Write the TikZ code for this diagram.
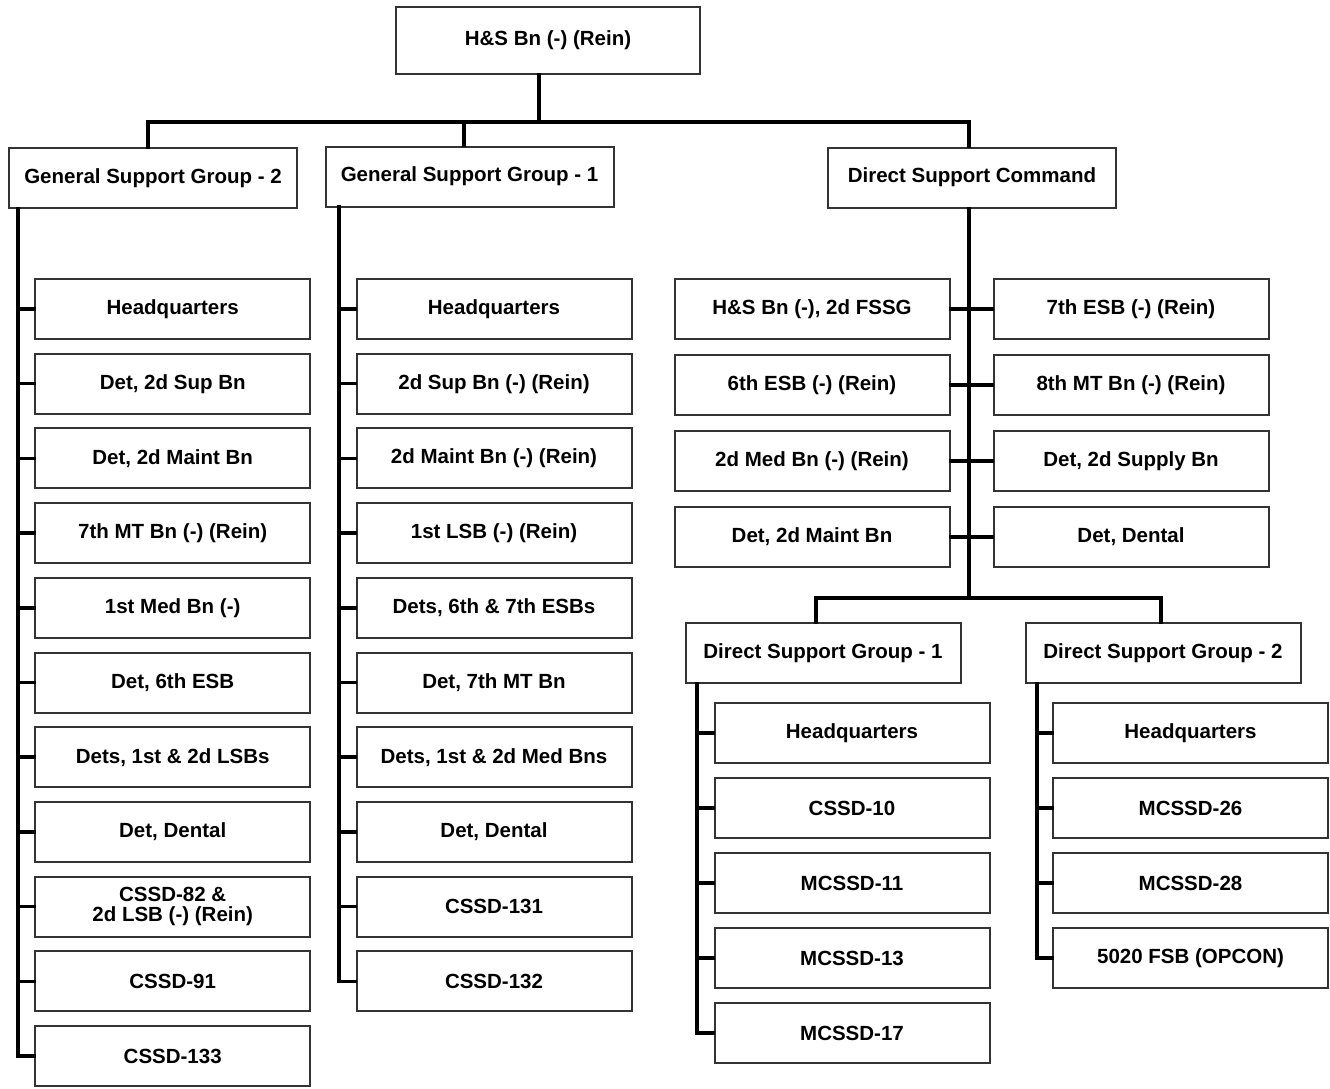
\documentclass[tikz,border=0pt]{standalone}
\usepackage{fontspec}
\setmainfont{Liberation Sans}
\usetikzlibrary{positioning}
\definecolor{edge}{rgb}{0.2,0.2,0.2}

\begin{document}
\begin{tikzpicture}[
  x = 1pt, y = -1pt,
  box/.style = {
    draw = edge,
    line width = 2pt,
    fill = white,
    align = center,
    inner sep = 0pt,
    minimum width = 275pt,
    minimum height = 60pt,
    font = \bfseries\fontsize{20.5}{20}\selectfont,
  },
  group/.style = {box, minimum width = 288pt},
  link/.style = {line width = 3.5pt, line cap = rect},
]
  \useasboundingbox[fill=white] (0,0) rectangle (1330,1088);

  \node[box, minimum width=304pt, minimum height=67pt] (hs) at (548,40.5) {H\&S Bn (-) (Rein)};

  \node[group] (gsgb) at (153,178) {General Support Group - 2};
  \node[group] (gsga) at (469.5,176.5) {General Support Group - 1};
  \node[group] (dsc) at (972,177.5) {Direct Support Command};

  % General Support Group - 2
  \begin{scope}[node distance=12.7pt]
  \node[box] (b1) at (172.7,309) {Headquarters};
  \node[box] (b2) [below=of b1] {Det, 2d Sup Bn};
  \node[box] (b3) [below=of b2] {Det, 2d Maint Bn};
  \node[box] (b4) [below=of b3] {7th MT Bn (-) (Rein)};
  \node[box] (b5) [below=of b4] {1st Med Bn (-)};
  \node[box] (b6) [below=of b5] {Det, 6th ESB};
  \node[box] (b7) [below=of b6] {Dets, 1st \& 2d LSBs};
  \node[box] (b8) [below=of b7] {Det, Dental};
  \node[box] (b9) [below=of b8] {CSSD-82 \&\\2d LSB (-) (Rein)};
  \node[box] (b10) [below=of b9] {CSSD-91};
  \node[box] (b11) [below=of b10] {CSSD-133};

  % General Support Group - 1
  \node[box] (a1) at (494,309) {Headquarters};
  \node[box] (a2) [below=of a1] {2d Sup Bn (-) (Rein)};
  \node[box] (a3) [below=of a2] {2d Maint Bn (-) (Rein)};
  \node[box] (a4) [below=of a3] {1st LSB (-) (Rein)};
  \node[box] (a5) [below=of a4] {Dets, 6th \& 7th ESBs};
  \node[box] (a6) [below=of a5] {Det, 7th MT Bn};
  \node[box] (a7) [below=of a6] {Dets, 1st \& 2d Med Bns};
  \node[box] (a8) [below=of a7] {Det, Dental};
  \node[box] (a9) [below=of a8] {CSSD-131};
  \node[box] (a10) [below=of a9] {CSSD-132};
  \end{scope}

  % Direct Support Command
  \begin{scope}[node distance=14pt]
  \node[box] (l1) at (812,309) {H\&S Bn (-), 2d FSSG};
  \node[box] (l2) [below=of l1] {6th ESB (-) (Rein)};
  \node[box] (l3) [below=of l2] {2d Med Bn (-) (Rein)};
  \node[box] (l4) [below=of l3] {Det, 2d Maint Bn};
  \node[box] (r1) at (1131,309) {7th ESB (-) (Rein)};
  \node[box] (r2) [below=of r1] {8th MT Bn (-) (Rein)};
  \node[box] (r3) [below=of r2] {Det, 2d Supply Bn};
  \node[box] (r4) [below=of r3] {Det, Dental};
  \end{scope}

  \node[box] (dsga) at (823,653) {Direct Support Group - 1};
  \node[box] (dsgb) at (1163,653) {Direct Support Group - 2};

  \begin{scope}[node distance=13pt]
  \node[box] (c1) at (852,733) {Headquarters};
  \node[box] (c2) [below=of c1] {CSSD-10};
  \node[box] (c3) [below=of c2] {MCSSD-11};
  \node[box] (c4) [below=of c3] {MCSSD-13};
  \node[box] (c5) [below=of c4] {MCSSD-17};
  \node[box] (d1) at (1190.5,733) {Headquarters};
  \node[box] (d2) [below=of d1] {MCSSD-26};
  \node[box] (d3) [below=of d2] {MCSSD-28};
  \node[box] (d4) [below=of d3] {5020 FSB (OPCON)};
  \end{scope}

  % connectors
  \coordinate (hsdrop) at (539,122);
  \coordinate (barl) at (148,122);
  \coordinate (barm) at (464,122);
  \coordinate (barr) at (969,122);
  \draw[link] (hs.south -| hsdrop) -- (hsdrop);
  \draw[link] (barl) -- (barr);
  \draw[link] (barl) -- (barl |- gsgb.north);
  \draw[link] (barm) -- (barm |- gsga.north);
  \draw[link] (barr) -- (barr |- dsc.north);

  \coordinate (tb) at (18,209);
  \draw[link] (tb) |- (b11.west);
  \draw[link] (b1.west -| tb) -- (b1.west) (b2.west -| tb) -- (b2.west)
    (b3.west -| tb) -- (b3.west) (b4.west -| tb) -- (b4.west)
    (b5.west -| tb) -- (b5.west) (b6.west -| tb) -- (b6.west)
    (b7.west -| tb) -- (b7.west) (b8.west -| tb) -- (b8.west)
    (b9.west -| tb) -- (b9.west) (b10.west -| tb) -- (b10.west);

  \coordinate (ta) at (339,207);
  \draw[link] (ta) |- (a10.west);
  \draw[link] (a1.west -| ta) -- (a1.west) (a2.west -| ta) -- (a2.west)
    (a3.west -| ta) -- (a3.west) (a4.west -| ta) -- (a4.west)
    (a5.west -| ta) -- (a5.west) (a6.west -| ta) -- (a6.west)
    (a7.west -| ta) -- (a7.west) (a8.west -| ta) -- (a8.west)
    (a9.west -| ta) -- (a9.west);

  \coordinate (dsbar) at (969,598);
  \coordinate (dsbarl) at (816,598);
  \coordinate (dsbarr) at (1161,598);
  \draw[link] (dsc.south -| dsbar) -- (dsbar);
  \draw[link] (l1.east) -- (r1.west) (l2.east) -- (r2.west)
    (l3.east) -- (r3.west) (l4.east) -- (r4.west);
  \draw[link] (dsbarl) -- (dsbarr);
  \draw[link] (dsbarl) -- (dsbarl |- dsga.north);
  \draw[link] (dsbarr) -- (dsbarr |- dsgb.north);

  \coordinate (tc) at (697,684);
  \draw[link] (tc) |- (c5.west);
  \draw[link] (c1.west -| tc) -- (c1.west) (c2.west -| tc) -- (c2.west)
    (c3.west -| tc) -- (c3.west) (c4.west -| tc) -- (c4.west);

  \coordinate (td) at (1037,684);
  \draw[link] (td) |- (d4.west);
  \draw[link] (d1.west -| td) -- (d1.west) (d2.west -| td) -- (d2.west)
    (d3.west -| td) -- (d3.west);

\end{tikzpicture}
\end{document}
